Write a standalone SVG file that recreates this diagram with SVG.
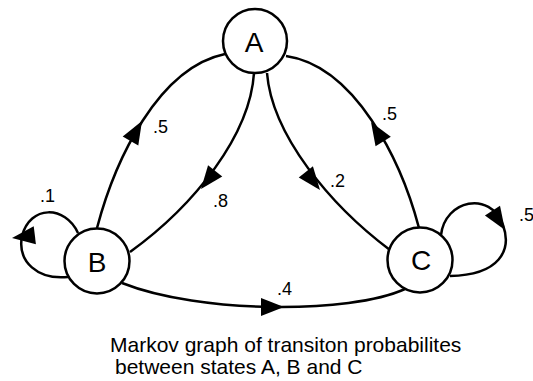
<svg xmlns="http://www.w3.org/2000/svg" xmlns:xlink="http://www.w3.org/1999/xlink" width="533" height="381" viewBox="0 0 533 381">
<style>
.edge{fill:none;stroke:#000;stroke-width:2.5}
.node circle{fill:#fff;stroke:#000;stroke-width:2.5}
.nl{font-family:"Liberation Sans",Arial,sans-serif;font-size:28px;text-anchor:middle;fill:#000}
.el{font-family:"Liberation Sans",Arial,sans-serif;font-size:18px;fill:#000}
.cap{font-family:"Liberation Sans",Arial,sans-serif;font-size:21px;fill:#000}
</style>
<defs>
<path id="ah" d="M0,0 L-23,-9 L-23,9 Z" fill="#000"/>
</defs>
<rect width="533" height="381" fill="#fff"/>
<g id="connectors">
<path class="edge" d="M97,228 C115,160 158,68 225,54"/>
<path class="edge" d="M254,73 C250,135 195,205 130,252"/>
<path class="edge" d="M267,73 C272,135 330,205 390,250"/>
<path class="edge" d="M419,228 C401,160 355,66 286,56"/>
<path class="edge" d="M122,283 C200,314 350,314 405,289"/>
<path class="edge" d="M78,233 C65,205 30,205 22,236 C17,262 38,280 68,277"/>
<path class="edge" d="M441,235 C445,200 490,190 503,225 C512,250 500,275 450,276"/>
<use xlink:href="#ah" transform="translate(142,121) rotate(-60)"/>
<use xlink:href="#ah" transform="translate(201,189) rotate(128)"/>
<use xlink:href="#ah" transform="translate(320,190) rotate(52)"/>
<use xlink:href="#ah" transform="translate(371,122) rotate(-122)"/>
<use xlink:href="#ah" transform="translate(284,307) rotate(0)"/>
<use xlink:href="#ah" transform="translate(12,238) rotate(173)"/>
<use xlink:href="#ah" transform="translate(505,230) rotate(57)"/>
<text class="el" x="153" y="133">.5</text>
<text class="el" x="213" y="207">.8</text>
<text class="el" x="330" y="187">.2</text>
<text class="el" x="382" y="120">.5</text>
<text class="el" x="277" y="295">.4</text>
<text class="el" x="40" y="202">.1</text>
<text class="el" x="519" y="221">.5</text>
</g>
<g id="A" class="node"><circle cx="255" cy="41" r="32"/><text class="nl" x="254" y="52">A</text></g>
<g id="B" class="node"><circle cx="97" cy="261" r="32.5"/><text class="nl" x="97" y="272">B</text></g>
<g id="C" class="node"><circle cx="420" cy="260" r="32.5"/><text class="nl" x="421" y="270">C</text></g>
<g id="caption">
<text class="cap" x="110" y="352">Markov graph of transiton probabilites</text>
<text class="cap" x="115" y="374">between states A, B and C</text>
</g>
</svg>
